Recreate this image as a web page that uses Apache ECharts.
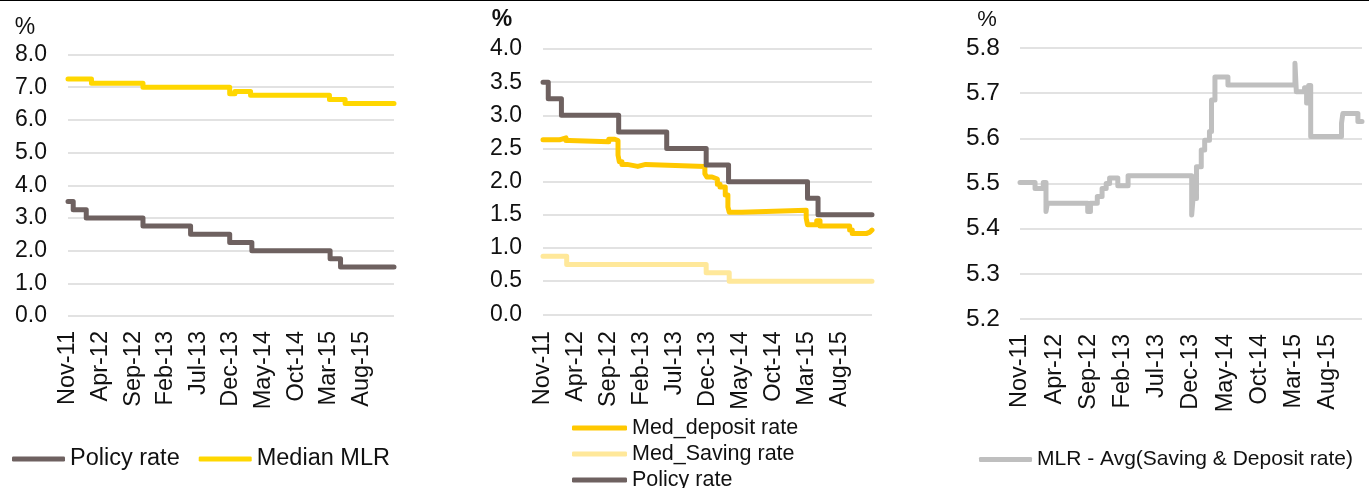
<!DOCTYPE html>
<html>
<head>
<meta charset="utf-8">
<script src="https://cdn.jsdelivr.net/npm/echarts@6/dist/echarts.min.js"></script>
<style>
html,body{margin:0;padding:0;background:#fff;}
#c{width:1369px;height:488px;}
</style>
</head>
<body>
<div id="c"></div>
<script>
// x values: months elapsed since the start of Nov-2011
var tickLabels = ['Nov-11','Apr-12','Sep-12','Feb-13','Jul-13','Dec-13','May-14','Oct-14','Mar-15','Aug-15'];

var policyX = [0, 0.8, 2.8, 11.5, 18.8, 24.8, 28.2, 40.2, 41.8, 50];
var policyY = [3.5, 3.25, 3.0, 2.75, 2.5, 2.25, 2.0, 1.75, 1.5, 1.5];

var mlrX = [0, 3.6, 11.5, 24.8, 25.6, 28.0, 40.1, 42.5, 50];
var mlrY = [7.25, 7.12, 7.0, 6.8, 6.87, 6.75, 6.62, 6.5, 6.5];

var depositX = [0, 2.5, 3.5, 4.0, 10.0, 10.9, 11.4, 11.6, 12.0, 12.8, 14.4, 15.6, 24.6, 24.9, 25.7, 26.5, 26.9, 27.7, 28.1, 28.3, 30.2, 40.0, 40.2, 41.6, 42.1, 46.6, 47.0, 49.2, 49.7, 50];
var depositY = [2.63, 2.66, 2.62, 2.60, 2.64, 2.62, 2.40, 2.30, 2.26, 2.23, 2.26, 2.23, 2.12, 2.07, 2.04, 1.96, 1.92, 1.80, 1.62, 1.54, 1.57, 1.45, 1.35, 1.41, 1.33, 1.27, 1.22, 1.24, 1.27, 1.27];

var savingX = [0, 3.6, 24.8, 28.3, 50];
var savingY = [0.875, 0.75, 0.625, 0.5, 0.5];

var spreadX = [0, 2.2, 3.4, 3.8, 4.0, 9.9, 10.3, 11.3, 12.0, 12.6, 13.1, 14.3, 15.8, 25.1, 25.3, 25.8, 26.5, 27.0, 27.7, 28.0, 28.5, 30.4, 40.2, 40.4, 41.6, 41.9, 42.2, 42.5, 47.0, 47.2, 49.4, 50];
var spreadY = [5.502, 5.489, 5.502, 5.438, 5.456, 5.438, 5.456, 5.471, 5.489, 5.500, 5.512, 5.495, 5.517, 5.430, 5.467, 5.537, 5.574, 5.596, 5.615, 5.685, 5.736, 5.718, 5.766, 5.703, 5.712, 5.678, 5.717, 5.604, 5.633, 5.655, 5.637, 5.637];

function pairs(xs, ys){ return xs.map(function(x,i){ return [x, ys[i]]; }); }

var FONT = '"Liberation Sans", Arial, Helvetica, sans-serif';
var TXT = '#111111';
var GRID_LINE = '#D9D9D9';
var C_POLICY = '#6E6160';
var C_MLR = '#FFD700';
var C_DEP = '#FFC800';
var C_SAV = '#FFE89A';
var C_SPREAD = '#BFBFBF';

function xAx(gi, margin){
  return {
    type:'value', gridIndex:gi, min:0, max:50, interval:5,
    axisLine:{show:false}, axisTick:{show:false}, splitLine:{show:false},
    axisLabel:{
      rotate:90, margin:margin, fontSize:23.5, color:TXT, fontFamily:FONT,
      showMaxLabel:true, showMinLabel:true,
      formatter:function(v){
        var i = Math.round(v/5);
        if (Math.abs(v - i*5) < 1e-6 && i < tickLabels.length) return tickLabels[i];
        return '';
      }
    }
  };
}
function yAx(gi, min, max, interval, fs, margin){
  return {
    type:'value', gridIndex:gi, min:min, max:max, interval:interval,
    axisLine:{show:false}, axisTick:{show:false},
    splitLine:{show:true, lineStyle:{color:GRID_LINE, width:1.6}},
    axisLabel:{fontSize:fs, color:TXT, fontFamily:FONT, margin:margin,
      formatter:function(v){ return v.toFixed(1); }}
  };
}
function lineSeries(name, xi, data, color, width){
  return {
    name:name, type:'line', xAxisIndex:xi, yAxisIndex:xi, data:data,
    step:'end', symbol:'none', color:color, silent:true,
    lineStyle:{color:color, width:width, cap:'round', join:'round'}
  };
}

var chart = echarts.init(document.getElementById('c'), null, {renderer:'canvas'});
chart.setOption({
  animation:false,
  backgroundColor:'#ffffff',
  textStyle:{fontFamily:FONT},
  grid:[
    {left:68, top:54.5, width:326, height:261.5},
    {left:543, top:49, width:329, height:265.3},
    {left:1020, top:48, width:342, height:271}
  ],
  xAxis:[xAx(0,15), xAx(1,17), xAx(2,15)],
  yAxis:[yAx(0,0,8,1,23,21), yAx(1,0,4,0.5,23,21), yAx(2,5.2,5.8,0.1,24.5,20)],
  legend:[
    {left:12, top:447, padding:0, orient:'horizontal', itemWidth:53, itemHeight:5, itemGap:19,
     icon:'roundRect', data:['Policy rate','Median MLR'],
     textStyle:{fontSize:23.5, color:TXT, fontFamily:FONT}, selectedMode:false},
    {left:572, top:417, height:90, padding:0, orient:'vertical', itemWidth:55, itemHeight:5, itemGap:4,
     icon:'roundRect', data:['Med_deposit rate','Med_Saving rate','Policy rate'],
     textStyle:{fontSize:21.5, lineHeight:22, color:TXT, fontFamily:FONT}, selectedMode:false},
    {left:979, top:449, padding:0, orient:'horizontal', itemWidth:53, itemHeight:5,
     icon:'roundRect', data:['MLR - Avg(Saving & Deposit rate)'],
     textStyle:{fontSize:21, color:TXT, fontFamily:FONT}, selectedMode:false}
  ],
  series:[
    lineSeries('Policy rate', 0, pairs(policyX, policyY), C_POLICY, 5),
    lineSeries('Median MLR', 0, pairs(mlrX, mlrY), C_MLR, 5),
    lineSeries('Med_deposit rate', 1, pairs(depositX, depositY), C_DEP, 5),
    lineSeries('Med_Saving rate', 1, pairs(savingX, savingY), C_SAV, 5),
    lineSeries('Policy rate', 1, pairs(policyX, policyY), C_POLICY, 5),
    lineSeries('MLR - Avg(Saving & Deposit rate)', 2, pairs(spreadX, spreadY), C_SPREAD, 5)
  ],
  graphic:[
    {type:'rect', left:0, top:0, shape:{width:1369, height:1}, style:{fill:'#000'}},
    {type:'text', x:25, y:28, style:{text:'%', fontSize:23, fill:TXT, fontFamily:FONT, align:'center', verticalAlign:'middle'}},
    {type:'text', x:502, y:20, style:{text:'%', fontSize:23, fontWeight:'bold', fill:TXT, fontFamily:FONT, align:'center', verticalAlign:'middle'}},
    {type:'text', x:987, y:20, style:{text:'%', fontSize:22, fill:TXT, fontFamily:FONT, align:'center', verticalAlign:'middle'}}
  ]
});
</script>
</body>
</html>
